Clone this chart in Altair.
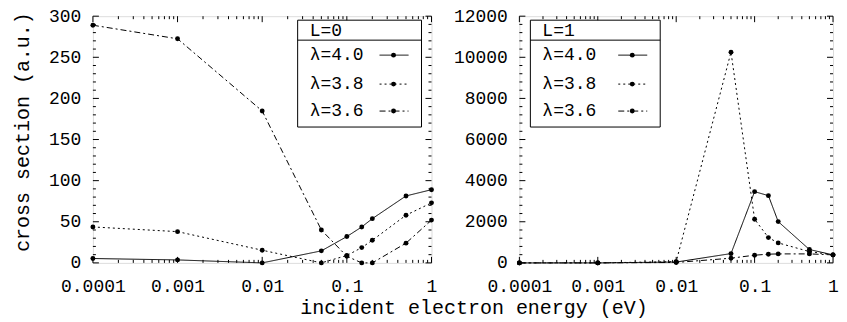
import altair as alt
import pandas as pd

# ---- data ----
energies = [0.0001, 0.001, 0.01, 0.05, 0.1, 0.15, 0.2, 0.5, 1.0]
series = ["λ=4.0", "λ=3.8", "λ=3.6"]

l0_lam40 = [5.3, 3.6, 0.0, 14.6, 32.0, 43.7, 53.8, 81.4, 89.0]
l0_lam38 = [43.7, 38.0, 15.4, 0.0, 9.0, 18.6, 27.5, 58.0, 73.0]
l0_lam36 = [289.0, 272.5, 184.7, 40.0, 8.0, 0.0, 0.0, 24.0, 52.0]

l1_lam40 = [0, 0, 40, 452, 3465, 3271, 2007, 650, 389]
l1_lam38 = [0, 0, 60, 10250, 2124, 1230, 972, 550, 390]
l1_lam36 = [0, 0, 20, 228, 374, 423, 437, 437, 390]

x_major = [0.0001, 0.001, 0.01, 0.1, 1.0]
x_minor = [k * d for d in [0.0001, 0.001, 0.01, 0.1] for k in range(2, 10)]

FONT = "Liberation Mono"
FS = 18
TFS = 20
H = 247
DASHES = [[1, 0], [2, 3], [6, 3, 2, 3]]


def long_df(vals):
    rows = []
    for s, v in zip(series, vals):
        for e, y in zip(energies, v):
            rows.append({"energy": e, "value": y, "series": s})
    return pd.DataFrame(rows)


def panel(vals, ymax, ymaj, ymin, W, ltitle, ytitle, xtitle, legend_box):
    df = long_df(vals)
    xs = alt.Scale(type="log", domain=[0.0001, 1], nice=False)
    ys = alt.Scale(domain=[0, ymax], nice=False)
    xkw = dict(values=x_major, format="~g", ticks=False, domain=False, grid=False,
               labelPadding=15, labelFontSize=FS, labelFont=FONT, labelFlush=False,
               labelOverlap=False, labelColor="black", labelAlign="center")
    if xtitle:
        xaxis = alt.Axis(title=xtitle, titleX=381, titleAlign="center", titlePadding=2,
                         titleFontSize=TFS, titleFont=FONT, titleFontWeight="normal",
                         titleColor="black", **xkw)
    else:
        xaxis = alt.Axis(title=None, **xkw)
    yvals = list(range(0, ymax + 1, ymaj))
    ykw = dict(values=yvals, format="d", ticks=False, domain=False, grid=False,
               labelPadding=12, labelFontSize=FS, labelFont=FONT, labelFlush=False,
               labelOverlap=False, labelColor="black")
    if ytitle:
        yaxis = alt.Axis(title=ytitle, titlePadding=16, titleFontSize=TFS, titleY=H / 2 - 8,
                         titleFont=FONT, titleFontWeight="normal", titleColor="black", **ykw)
    else:
        yaxis = alt.Axis(title=None, **ykw)

    dash = alt.StrokeDash("series:N", scale=alt.Scale(domain=series, range=DASHES), legend=None)
    lines = alt.Chart(df).mark_line(color="black", strokeWidth=1).encode(
        x=alt.X("energy:Q", scale=xs, axis=xaxis),
        y=alt.Y("value:Q", scale=ys, axis=yaxis),
        strokeDash=dash,
        detail="series:N",
    )
    pts = alt.Chart(df).mark_point(filled=True, size=24, color="black", opacity=1).encode(
        x=alt.X("energy:Q", scale=xs), y=alt.Y("value:Q", scale=ys)
    )
    layers = [lines, pts]

    # inward ticks (mirrored on all four sides)
    xt = pd.DataFrame({"t": x_major + x_minor, "major": [True] * len(x_major) + [False] * len(x_minor)})
    yt = pd.DataFrame({"t": list(range(0, ymax + 1, ymin))})
    yt["major"] = yt["t"] % ymaj == 0
    for major, ln in [(True, 6), (False, 3)]:
        fx = alt.Chart(xt).transform_filter(alt.datum.major == major)
        layers.append(fx.mark_rule(color="black", strokeWidth=1).encode(
            x=alt.X("t:Q", scale=xs), y=alt.value(H), y2=alt.value(H - ln)))
        layers.append(fx.mark_rule(color="black", strokeWidth=1).encode(
            x=alt.X("t:Q", scale=xs), y=alt.value(0), y2=alt.value(ln)))
        fy = alt.Chart(yt).transform_filter(alt.datum.major == major)
        layers.append(fy.mark_rule(color="black", strokeWidth=1).encode(
            y=alt.Y("t:Q", scale=ys), x=alt.value(0), x2=alt.value(ln)))
        layers.append(fy.mark_rule(color="black", strokeWidth=1).encode(
            y=alt.Y("t:Q", scale=ys), x=alt.value(W), x2=alt.value(W - ln)))

    # legend box
    bx0, bx1, by0, by1, sep = legend_box
    one = pd.DataFrame({"k": [0]})
    layers.append(alt.Chart(one).mark_rect(fill="white", stroke="black", strokeWidth=1).encode(
        x=alt.value(bx0), x2=alt.value(bx1), y=alt.value(by0), y2=alt.value(by1)))
    layers.append(alt.Chart(one).mark_rule(color="black", strokeWidth=1).encode(
        x=alt.value(bx0), x2=alt.value(bx1), y=alt.value(sep)))
    layers.append(alt.Chart(pd.DataFrame({"label": [ltitle]})).mark_text(
        align="left", baseline="middle", font=FONT, fontSize=FS, color="black").encode(
        text="label:N", x=alt.value(bx0 + 12), y=alt.value((by0 + sep) / 2 + 1)))
    row_y = [sep + 15, sep + 44, sep + 71]
    for i, s in enumerate(series):
        yy = row_y[i]
        lab = pd.DataFrame({"label": [s]})
        layers.append(alt.Chart(lab).mark_text(
            align="left", baseline="middle", font=FONT, fontSize=FS, color="black").encode(
            text="label:N", x=alt.value(bx0 + 12), y=alt.value(yy)))
        layers.append(alt.Chart(lab).mark_rule(color="black", strokeWidth=1,
                                               strokeDash=DASHES[i]).encode(
            x=alt.value(bx1 - 42), x2=alt.value(bx1 - 13), y=alt.value(yy)))
        layers.append(alt.Chart(lab).mark_point(filled=True, size=24, color="black", opacity=1).encode(
            x=alt.value(bx1 - 28), y=alt.value(yy)))

    return alt.layer(*layers).properties(width=W, height=H)


left = panel([l0_lam40, l0_lam38, l0_lam36], 300, 50, 10, 339, "L=0",
             "cross section (a.u.)", "incident electron energy (eV)",
             (205, 329, 4, 111, 24))
right = panel([l1_lam40, l1_lam38, l1_lam36], 12000, 2000, 400, 314, "L=1",
              None, None, (11, 141, 4, 111, 24))

chart = alt.hconcat(left, right, spacing=88, bounds="flush").properties(
    padding={"left": 4, "top": -2, "right": 0, "bottom": 0}
).configure_view(stroke="black", strokeWidth=1).configure(background="white")

chart.save("out.html", embed_options={"renderer": "svg", "actions": False})
